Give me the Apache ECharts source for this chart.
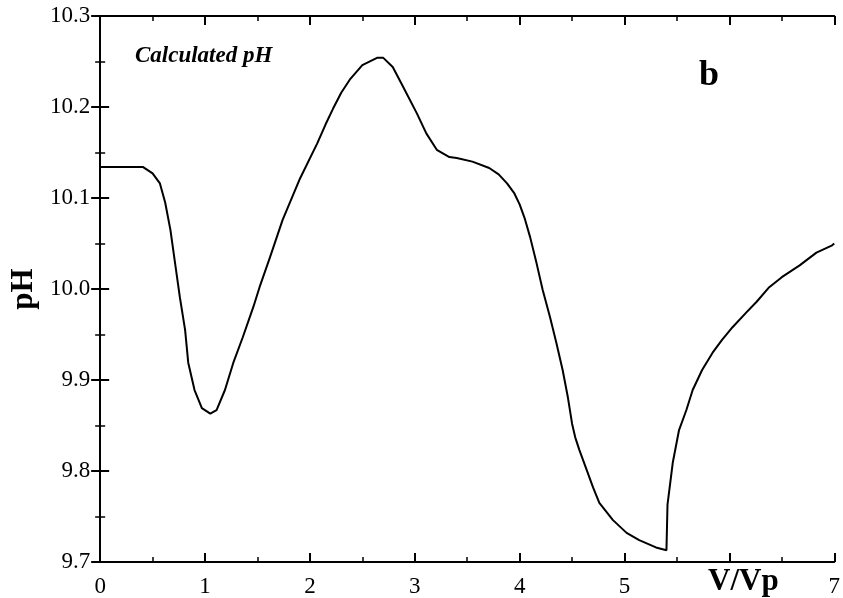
<!DOCTYPE html>
<html>
<head>
<meta charset="utf-8">
<script src="https://cdn.jsdelivr.net/npm/echarts@6/dist/echarts.min.js"></script>
<style>
html,body{margin:0;padding:0;background:#fff;}
#chart{width:843px;height:598px;}
</style>
</head>
<body>
<div id="chart"></div>
<script>
var xVals = [0, 0.41, 0.50, 0.57, 0.62, 0.67, 0.71, 0.76, 0.81, 0.84, 0.90, 0.97, 1.05, 1.11, 1.19, 1.27, 1.36, 1.46, 1.52, 1.62, 1.74, 1.90, 2.07, 2.15, 2.22, 2.30, 2.38, 2.50, 2.64, 2.70, 2.79, 2.89, 3.02, 3.11, 3.21, 3.33, 3.40, 3.55, 3.71, 3.80, 3.88, 3.95, 4.00, 4.05, 4.10, 4.16, 4.22, 4.29, 4.35, 4.41, 4.46, 4.50, 4.53, 4.57, 4.64, 4.70, 4.76, 4.89, 5.02, 5.14, 5.30, 5.40, 5.41, 5.46, 5.52, 5.59, 5.65, 5.74, 5.84, 5.93, 6.03, 6.16, 6.26, 6.38, 6.50, 6.67, 6.83, 6.98, 7.0];
var phVals = [10.134, 10.134, 10.127, 10.116, 10.095, 10.065, 10.032, 9.991, 9.955, 9.919, 9.889, 9.869, 9.863, 9.867, 9.889, 9.919, 9.947, 9.980, 10.002, 10.035, 10.076, 10.120, 10.160, 10.181, 10.198, 10.216, 10.230, 10.246, 10.254, 10.254, 10.244, 10.222, 10.193, 10.171, 10.153, 10.145, 10.144, 10.140, 10.133, 10.126, 10.116, 10.105, 10.093, 10.077, 10.057, 10.029, 9.999, 9.969, 9.941, 9.911, 9.881, 9.852, 9.837, 9.823, 9.801, 9.782, 9.765, 9.746, 9.732, 9.724, 9.716, 9.713, 9.763, 9.809, 9.845, 9.867, 9.889, 9.911, 9.930, 9.944, 9.958, 9.974, 9.986, 10.002, 10.013, 10.026, 10.040, 10.048, 10.050];
var xTickLabels = ['0', '1', '2', '3', '4', '5', '', '7'];
var yTickLabels = ['9.7', '9.8', '9.9', '10.0', '10.1', '10.2', '10.3'];
var xAxisTitle = 'V/Vp';
var yAxisTitle = 'pH';
var annotation = 'Calculated pH';
var panelLetter = 'b';

var data = xVals.map(function (x, i) { return [x, phVals[i]]; });
var serif = '"Liberation Serif", "Times New Roman", serif';
var lineStyle = { color: '#000', width: 2 };
var tickBase = { show: true, inside: true, length: 9, lineStyle: { color: '#000', width: 2 } };
var minorBase = { show: true, splitNumber: 2, length: 5, lineStyle: { color: '#000', width: 1.5 } };

var chart = echarts.init(document.getElementById('chart'));
chart.setOption({
  backgroundColor: '#fff',
  animation: false,
  grid: { left: 100, right: 8, top: 16, bottom: 36, containLabel: false },
  xAxis: [{
    type: 'value', min: 0, max: 7, interval: 1, position: 'bottom',
    axisLine: { show: true, lineStyle: lineStyle },
    axisTick: tickBase, minorTick: minorBase,
    splitLine: { show: false },
    axisLabel: {
      margin: 13, color: '#000', fontFamily: serif, fontSize: 23,
      formatter: function (v) { return xTickLabels[Math.round(v)]; }
    }
  }, {
    type: 'value', min: 0, max: 7, interval: 1, position: 'top',
    axisLine: { show: true, lineStyle: lineStyle },
    axisTick: tickBase, minorTick: minorBase,
    splitLine: { show: false }, axisLabel: { show: false }
  }],
  yAxis: [{
    type: 'value', min: 9.7, max: 10.3, interval: 0.1, position: 'left',
    name: yAxisTitle, nameLocation: 'middle', nameGap: 58, nameRotate: 90,
    nameTextStyle: { color: '#000', fontFamily: serif, fontSize: 31, fontWeight: 'bold' },
    axisLine: { show: true, lineStyle: lineStyle },
    axisTick: tickBase, minorTick: minorBase,
    splitLine: { show: false },
    axisLabel: {
      margin: 10, color: '#000', fontFamily: serif, fontSize: 23,
      formatter: function (v) { return yTickLabels[Math.round((v - 9.7) * 10)]; }
    }
  }, {
    type: 'value', min: 9.7, max: 10.3, interval: 0.1, position: 'right',
    axisLine: { show: true, lineStyle: lineStyle },
    axisTick: tickBase, minorTick: minorBase,
    splitLine: { show: false }, axisLabel: { show: false }
  }],
  series: [{
    type: 'line', xAxisIndex: 0, yAxisIndex: 0,
    data: data, showSymbol: false, symbol: 'none',
    smooth: false,
    lineStyle: { color: '#000', width: 2 }
  }],
  graphic: [
    { type: 'text', left: 135, top: 45, style: { text: annotation, fill: '#000', font: 'italic bold 23px ' + serif } },
    { type: 'text', left: 699, top: 58, style: { text: panelLetter, fill: '#000', font: 'bold 36px ' + serif } },
    { type: 'text', left: 708, top: 566, style: { text: xAxisTitle, fill: '#000', font: 'bold 31px ' + serif } }
  ]
});
</script>
</body>
</html>
